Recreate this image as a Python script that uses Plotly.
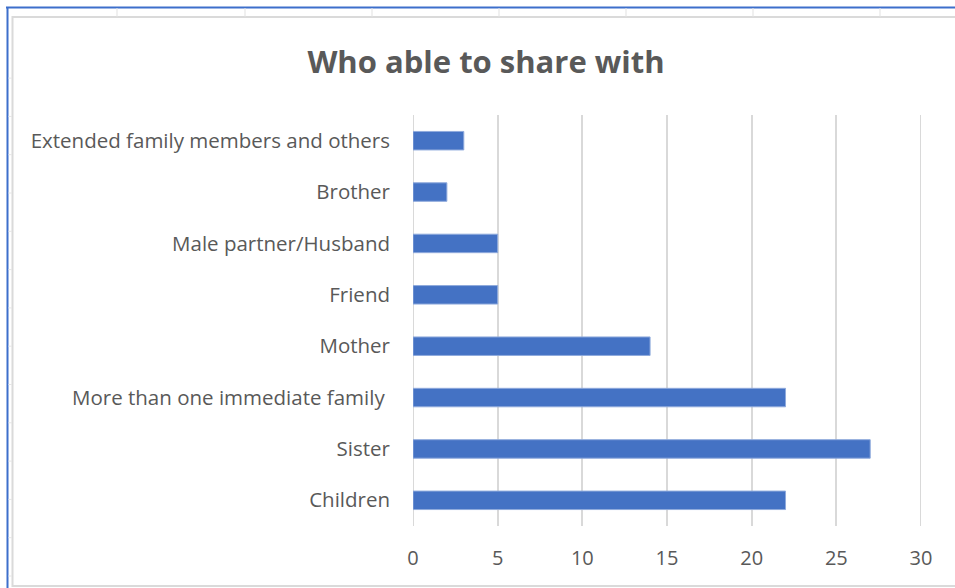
import plotly.graph_objects as go

# Categories listed bottom-to-top as they appear on the horizontal bar chart
categories = [
    "Children",
    "Sister",
    "More than one immediate family\u00a0",
    "Mother",
    "Friend",
    "Male partner/Husband",
    "Brother",
    "Extended family members and others",
]
counts = [22, 27, 22, 14, 5, 5, 2, 3]
x_ticks = [0, 5, 10, 15, 20, 25, 30]

W, H = 955, 588
# plot-area pixel box
PL, PR, PT, PB = 413, 921, 115, 526


def px(x):
    return (x - PL) / (PR - PL)


def py(y):
    return (PB - y) / (PB - PT)


text_grey = "#595959"
bar_blue = "#4472C4"
grid_grey = "#D9D9D9"

fig = go.Figure(
    go.Bar(
        x=counts,
        y=categories,
        orientation="h",
        width=0.36,
        marker=dict(color=bar_blue, line=dict(color="#8FAADC", width=1)),
        hoverinfo="x+y",
    )
)

shapes = []
# spreadsheet frame: blue selection edges
shapes.append(dict(type="line", xref="paper", yref="paper",
                   x0=px(6), x1=px(960), y0=py(7.5), y1=py(7.5),
                   line=dict(color="#3D6FCB", width=2)))
shapes.append(dict(type="line", xref="paper", yref="paper",
                   x0=px(7.5), x1=px(7.5), y0=py(7), y1=py(592),
                   line=dict(color="#3D6FCB", width=2)))
# cell borders peeking out above and left of the chart
for cx in [117, 245, 372, 499, 626, 753, 880]:
    shapes.append(dict(type="line", xref="paper", yref="paper",
                       x0=px(cx), x1=px(cx), y0=py(8), y1=py(17),
                       line=dict(color="#E1E1E1", width=1)))
for k in range(14):
    ry = 576 - 38.3 * k
    shapes.append(dict(type="line", xref="paper", yref="paper",
                       x0=px(8.5), x1=px(12), y0=py(ry), y1=py(ry),
                       line=dict(color="#E6E6E6", width=1)))
# chart area border
shapes.append(dict(type="rect", xref="paper", yref="paper",
                   x0=px(12.5), x1=px(965), y0=py(17), y1=py(586),
                   line=dict(color="#DADADA", width=2), fillcolor="rgba(0,0,0,0)",
                   layer="below"))
# value grid lines at the range ends (0 and 30)
for gx in (x_ticks[0], x_ticks[-1]):
    shapes.append(dict(type="line", xref="x", yref="paper",
                       x0=gx, x1=gx, y0=0, y1=1,
                       line=dict(color=grid_grey, width=2), layer="below"))

fig.update_layout(
    width=W,
    height=H,
    margin=dict(l=PL, r=W - PR, t=PT, b=H - PB, pad=0),
    paper_bgcolor="white",
    plot_bgcolor="white",
    showlegend=False,
    font=dict(family="Open Sans", color=text_grey),
    title=dict(
        text="Who able to share with",
        font=dict(family="Open Sans", size=31, color=text_grey, weight="bold"),
        x=486 / W,
        xanchor="center",
        xref="container",
        y=1 - 62 / H,
        yanchor="middle",
        yref="container",
    ),
    xaxis=dict(
        range=[0, 30],
        tickvals=x_ticks,
        ticktext=[str(v) for v in x_ticks],
        showgrid=True,
        gridcolor=grid_grey,
        gridwidth=2,
        zeroline=False,
        showline=False,
        ticks="",
        tickfont=dict(size=20, color=text_grey),
        ticklabelstandoff=18,
        fixedrange=True,
    ),
    yaxis=dict(
        categoryorder="array",
        categoryarray=categories,
        showgrid=False,
        zeroline=False,
        showline=False,
        ticks="",
        tickfont=dict(size=20.5, color=text_grey),
        ticklabelstandoff=22,
        fixedrange=True,
    ),
    shapes=shapes,
)

fig.write_html("out.html")
